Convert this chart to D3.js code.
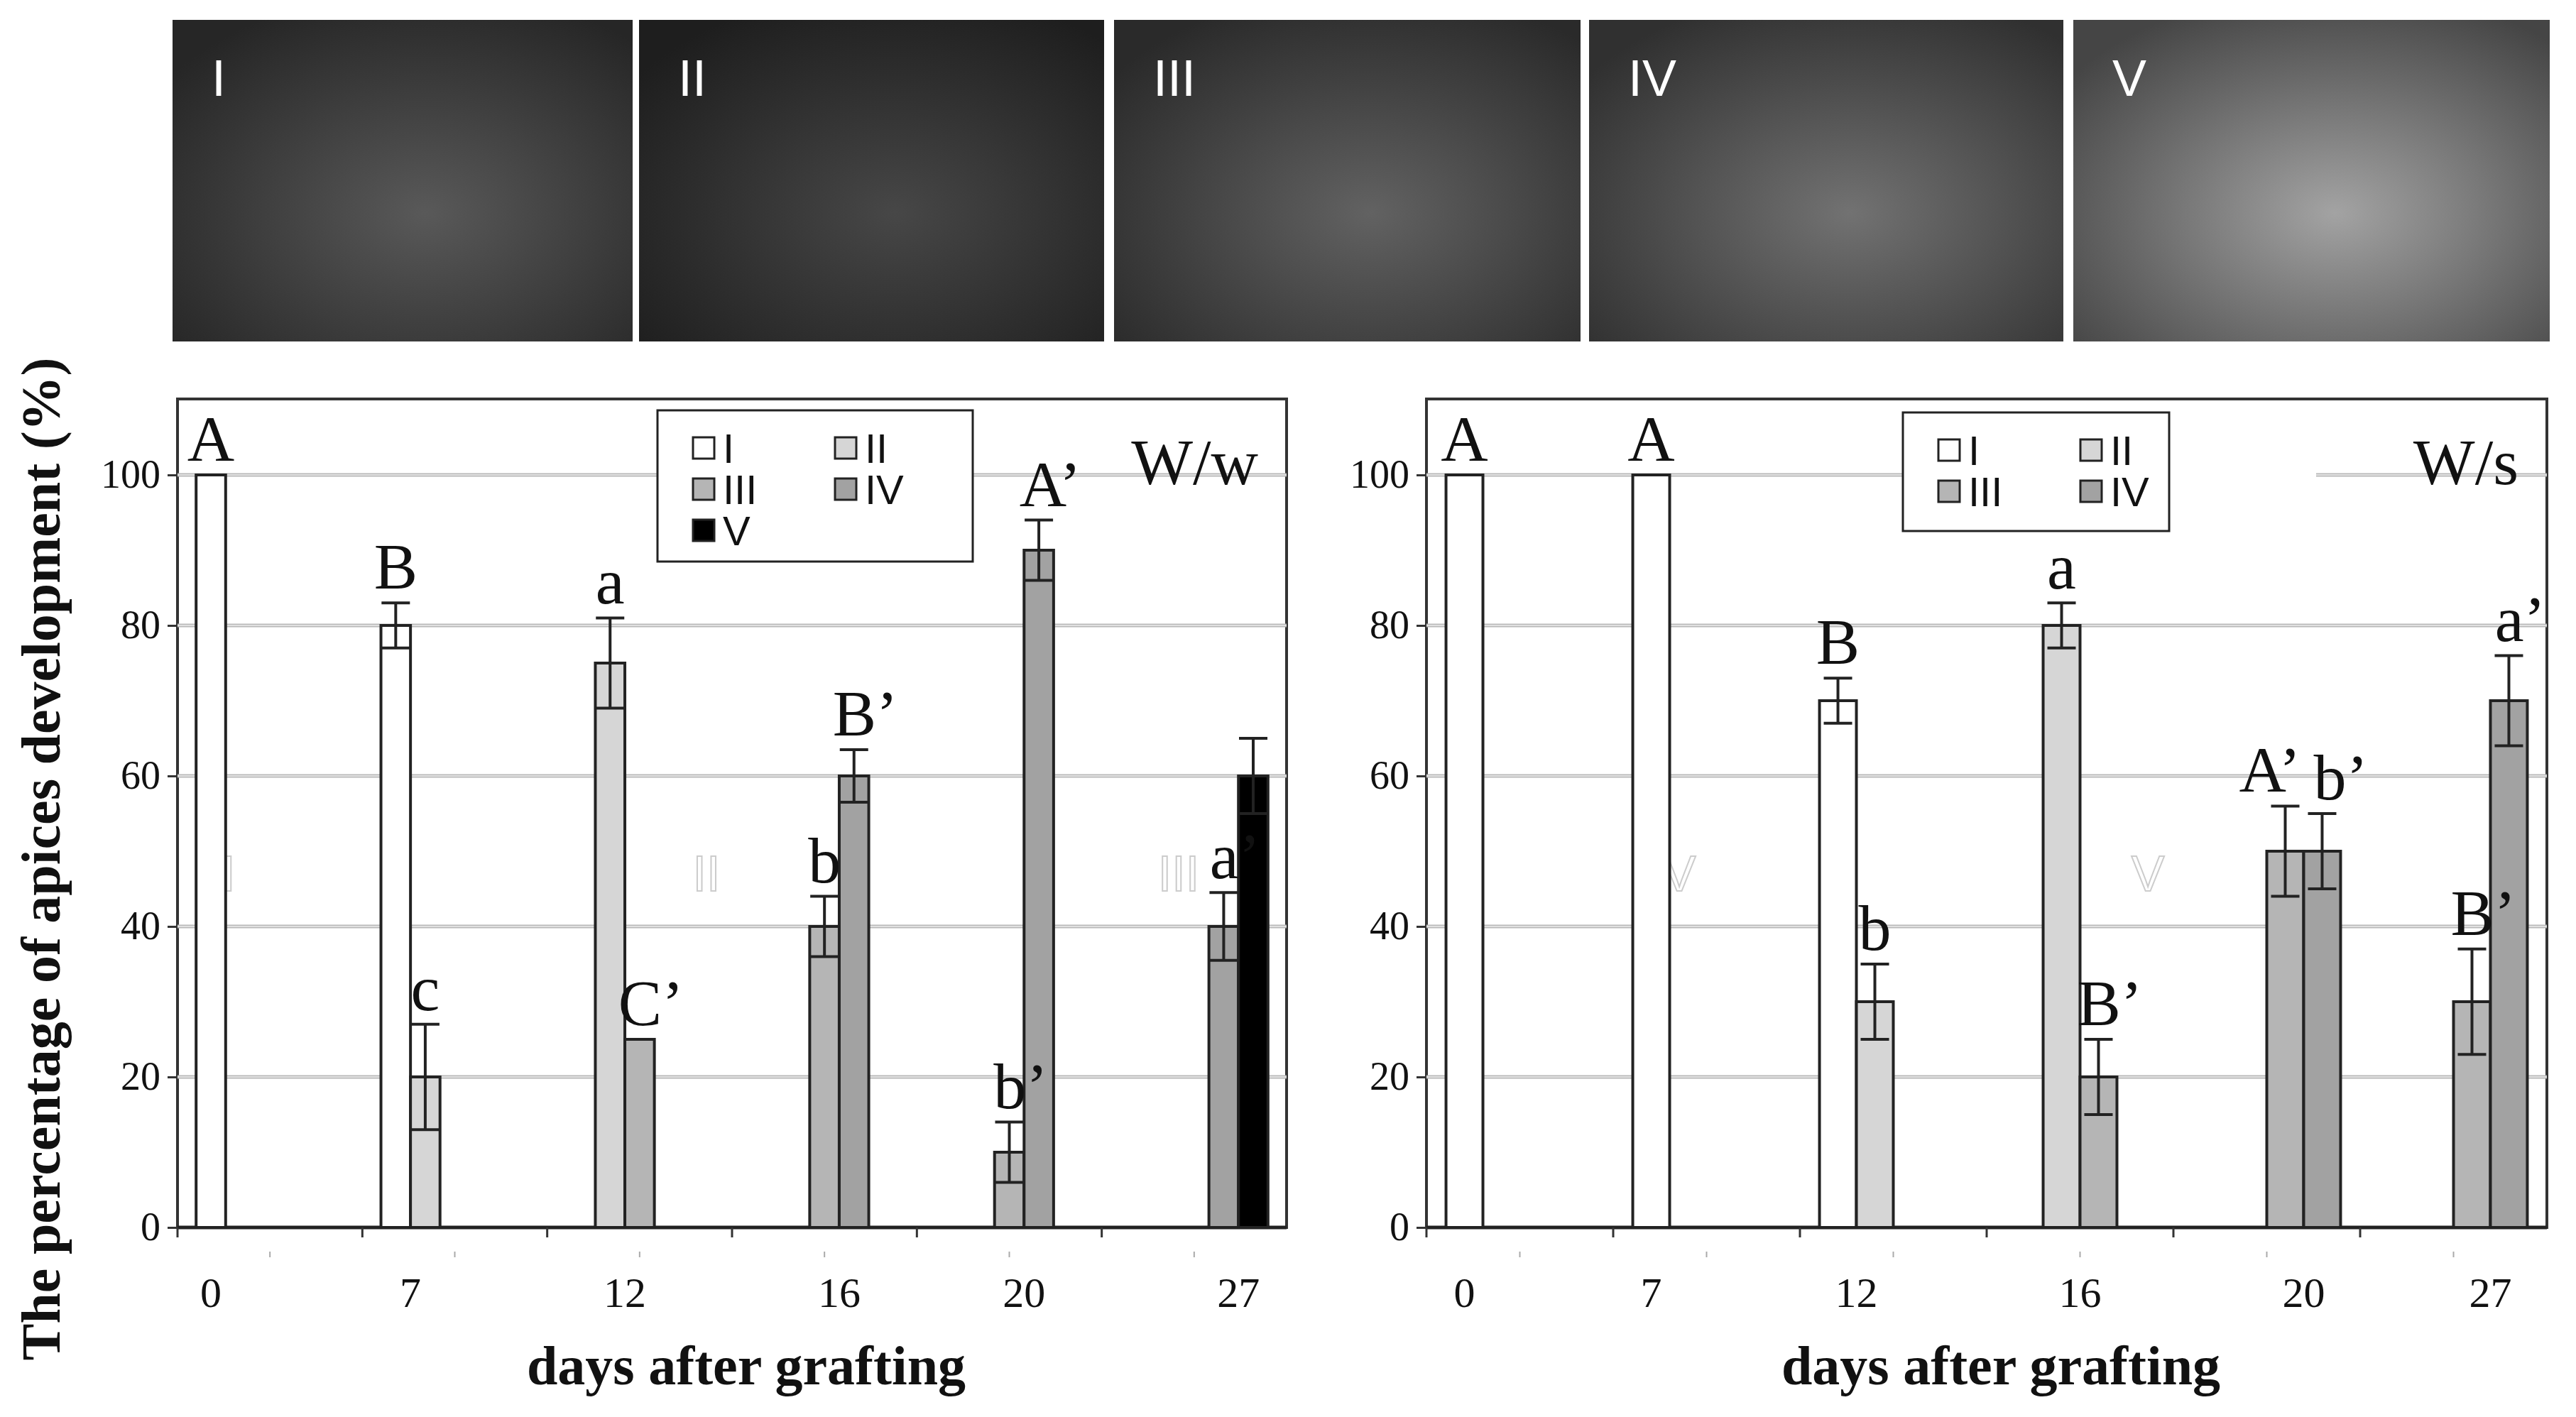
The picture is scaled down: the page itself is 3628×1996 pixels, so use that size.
<!DOCTYPE html>
<html><head><meta charset="utf-8">
<script src="https://cdn.jsdelivr.net/npm/d3@7"></script>
<style>body{margin:0;background:#fff}svg{display:block}</style>
</head><body>
<svg id="c" width="3628" height="1996"></svg>
<script>
// data
var days = ["0", "7", "12", "16", "20", "27"];
var stages = ["I", "II", "III", "IV", "V"];
var stageColor = ["#ffffff", "#d6d6d6", "#b5b5b5", "#a2a2a2", "#000000"];

// W/w : [day, stage, value, error, letter]
var wwBars = [
  ["0", "I", 100, 0, "A"],
  ["7", "I", 80, 3, "B"], ["7", "II", 20, 7, "c"],
  ["12", "II", 75, 6, "a"], ["12", "III", 25, 0, "C\u2019"],
  ["16", "III", 40, 4, "b"], ["16", "IV", 60, 3.5, "B\u2019"],
  ["20", "III", 10, 4, "b\u2019"], ["20", "IV", 90, 4, "A\u2019"],
  ["27", "IV", 40, 4.5, "a\u2019"], ["27", "V", 60, 5, ""]
];
// W/s
var wsBars = [
  ["0", "I", 100, 0, "A"],
  ["7", "I", 100, 0, "A"],
  ["12", "I", 70, 3, "B"], ["12", "II", 30, 5, "b"],
  ["16", "II", 80, 3, "a"], ["16", "III", 20, 5, "B\u2019"],
  ["20", "III", 50, 6, "A\u2019"], ["20", "IV", 50, 5, "b\u2019"],
  ["27", "III", 30, 7, "B\u2019"], ["27", "IV", 70, 6, "a\u2019"]
];
var yTicks = [0, 20, 40, 60, 80, 100];

var svg = d3.select("#c");
var serif = "'Liberation Serif', 'DejaVu Serif', serif";
var sans = "'Liberation Sans', Arial, sans-serif";

// photo strip (placeholders for SEM images)
var photos = [[243, 891, "#3a3a3a"], [900, 1555, "#2e2e2e"], [1569, 2226, "#404040"], [2238, 2906, "#4a4a4a"], [2920, 3591, "#6a6a6a"]];
var defs = svg.append("defs");
photos.forEach(function(p, i) {
  var g = defs.append("radialGradient").attr("id", "ph" + i).attr("cx", "55%").attr("cy", "60%").attr("r", "70%");
  g.append("stop").attr("offset", "0%").attr("stop-color", d3.color(p[2]).brighter(1.2));
  g.append("stop").attr("offset", "60%").attr("stop-color", p[2]);
  g.append("stop").attr("offset", "100%").attr("stop-color", d3.color(p[2]).darker(1.2));
  svg.append("rect").attr("x", p[0]).attr("y", 28).attr("width", p[1] - p[0]).attr("height", 453)
    .attr("fill", "url(#ph" + i + ")");
  svg.append("text").attr("x", p[0] + 55).attr("y", 135).attr("fill", "#fff")
    .attr("font-family", sans).attr("font-size", 72).text(stages[i]);
});

function drawChart(opt) {
  var x0 = opt.left, x1 = opt.right, y0 = 1729, yTop = 562;
  var y = d3.scaleLinear().domain([0, 100]).range([y0, 669]);
  var xg = d3.scaleBand().domain(days).range([x0, x1]);
  var xs = d3.scaleBand().domain(opt.series).range([0, xg.bandwidth()]).paddingOuter(opt.pad);
  var g = svg.append("g");

  g.append("rect").attr("x", x0).attr("y", yTop).attr("width", x1 - x0).attr("height", y0 - yTop)
    .attr("fill", "#fff").attr("stroke", "#333").attr("stroke-width", 4);

  // grid
  g.selectAll(".grid").data(yTicks.slice(1)).enter().append("line")
    .attr("x1", x0).attr("x2", x1).attr("y1", d => y(d)).attr("y2", d => y(d))
    .attr("stroke", "#b8b8b8").attr("stroke-width", 5);
  g.selectAll(".grid2").data(yTicks.slice(1)).enter().append("line")
    .attr("x1", x0).attr("x2", x1).attr("y1", d => y(d)).attr("y2", d => y(d))
    .attr("stroke", "#eee").attr("stroke-width", 1.5);
  if (opt.gap) g.append("rect").attr("x", opt.gap[0]).attr("y", y(100) - 6).attr("width", opt.gap[1] - opt.gap[0]).attr("height", 12).attr("fill", "#fff");

  // faint artefact letters
  opt.ghosts.forEach(function(t) {
    g.append("text").attr("x", t[0]).attr("y", 1255).attr("font-family", sans).attr("font-size", 70)
      .attr("fill", "none").attr("stroke", "#ccc").attr("stroke-width", 2).attr("text-anchor", "middle").text(t[1]);
  });

  // y axis
  var ya = g.append("g").attr("transform", "translate(" + x0 + ",0)")
    .call(d3.axisLeft(y).tickValues(yTicks).tickSize(14).tickPadding(10));
  ya.select(".domain").remove();
  ya.selectAll("line").attr("stroke", "#333").attr("stroke-width", 3);
  ya.selectAll("text").attr("font-family", serif).attr("font-size", 56).attr("fill", "#111");

  // x axis ticks at group boundaries
  var xa = g.append("g").attr("transform", "translate(0," + y0 + ")");
  xa.append("line").attr("x1", x0).attr("x2", x1).attr("stroke", "#222").attr("stroke-width", 5);
  xa.selectAll(".tk").data(days).enter().append("line")
    .attr("x1", d => xg(d)).attr("x2", d => xg(d)).attr("y1", 0).attr("y2", 14).attr("stroke", "#333").attr("stroke-width", 3);
  xa.selectAll(".tm").data(days).enter().append("line")
    .attr("x1", d => xg(d) + xg.bandwidth() / 2).attr("x2", d => xg(d) + xg.bandwidth() / 2)
    .attr("y1", 34).attr("y2", 42).attr("stroke", "#aaa").attr("stroke-width", 2);

  var bars = opt.data;
  var bw = xs.bandwidth();
  function bx(d) { return xg(d[0]) + xs(d[1]); }

  // day labels centred on the drawn bars
  xa.selectAll(".dl").data(days).enter().append("text")
    .attr("x", function(dd) {
      var b = bars.filter(d => d[0] === dd);
      var a = d3.min(b, bx), z = d3.max(b, bx) + bw;
      return (a + z) / 2;
    })
    .attr("y", 112).attr("text-anchor", "middle").attr("font-family", serif).attr("font-size", 60).attr("fill", "#111").text(d => d);

  g.selectAll(".bar").data(bars).enter().append("rect")
    .attr("x", bx).attr("width", bw).attr("y", d => y(d[2])).attr("height", d => y0 - y(d[2]))
    .attr("fill", d => stageColor[stages.indexOf(d[1])]).attr("stroke", "#222").attr("stroke-width", 4);

  var eb = bars.filter(d => d[3] > 0);
  var cap = 20;
  g.selectAll(".ev").data(eb).enter().append("line")
    .attr("x1", d => bx(d) + bw / 2).attr("x2", d => bx(d) + bw / 2)
    .attr("y1", d => y(d[2] - d[3])).attr("y2", d => y(d[2] + d[3])).attr("stroke", "#222").attr("stroke-width", 4);
  [1, -1].forEach(function(s) {
    g.selectAll(".ec").data(eb).enter().append("line")
      .attr("x1", d => bx(d) + bw / 2 - cap).attr("x2", d => bx(d) + bw / 2 + cap)
      .attr("y1", d => y(d[2] + s * d[3])).attr("y2", d => y(d[2] + s * d[3])).attr("stroke", "#222").attr("stroke-width", 4);
  });

  // letters; when two labels in a group sit at the same height, push them apart
  function clash(d) {
    return bars.find(o => o !== d && o[0] === d[0] && o[4] && Math.abs(y(o[2] + o[3]) - y(d[2] + d[3])) < 70);
  }
  g.selectAll(".lt").data(bars.filter(d => d[4])).enter().append("text")
    .attr("x", function(d) {
      var c = clash(d), cx = bx(d) + bw / 2;
      if (c) return cx + (bx(d) < bx(c) ? 22 : -12);
      return cx + (d[4].length > 1 ? 16 : 0);
    })
    .attr("text-anchor", function(d) {
      var c = clash(d);
      if (c) return bx(d) < bx(c) ? "end" : "start";
      return "middle";
    })
    .attr("y", d => y(d[2] + d[3]) - 20)
    .attr("font-family", serif).attr("font-size", 92).attr("fill", "#111").text(d => d[4]);

  // legend
  var L = opt.legend;
  g.append("rect").attr("x", L.x).attr("y", L.y).attr("width", L.w).attr("height", L.h)
    .attr("fill", "#fff").attr("stroke", "#222").attr("stroke-width", 3);
  opt.series.forEach(function(s, i) {
    var lx = L.x + 50 + (i % 2) * 200, ly = L.y + 38 + Math.floor(i / 2) * 58;
    g.append("rect").attr("x", lx).attr("y", ly).attr("width", 30).attr("height", 30)
      .attr("fill", stageColor[i]).attr("stroke", "#222").attr("stroke-width", 3);
    g.append("text").attr("x", lx + 42).attr("y", ly + 36).attr("font-family", sans).attr("font-size", 58).attr("fill", "#111").text(s);
  });
  g.append("text").attr("x", x1 - 40).attr("y", 682).attr("text-anchor", "end")
    .attr("font-family", serif).attr("font-size", 92).attr("fill", "#111").text(opt.title);

  g.append("text").attr("x", (x0 + x1) / 2 + 20).attr("y", 1950).attr("text-anchor", "middle")
    .attr("font-family", serif).attr("font-weight", "bold").attr("font-size", 78).attr("fill", "#111").text("days after grafting");
}

drawChart({ left: 250, right: 1812, series: stages, pad: 0.63, data: wwBars, title: "W/w",
  legend: { x: 926, y: 578, w: 444, h: 213 },
  ghosts: [[322, "I"], [995, "II"], [1660, "III"]] });
drawChart({ left: 2009, right: 3587, series: stages.slice(0, 4), pad: 0.53, data: wsBars, title: "W/s",
  legend: { x: 2680, y: 581, w: 375, h: 167 }, gap: [2897, 3262],
  ghosts: [[2365, "V"], [3025, "V"]] });

svg.append("text").attr("transform", "translate(84,1210) rotate(-90)").attr("text-anchor", "middle")
  .attr("font-family", serif).attr("font-weight", "bold").attr("font-size", 78).attr("fill", "#111")
  .text("The percentage of apices development (%)");
</script>
</body></html>
